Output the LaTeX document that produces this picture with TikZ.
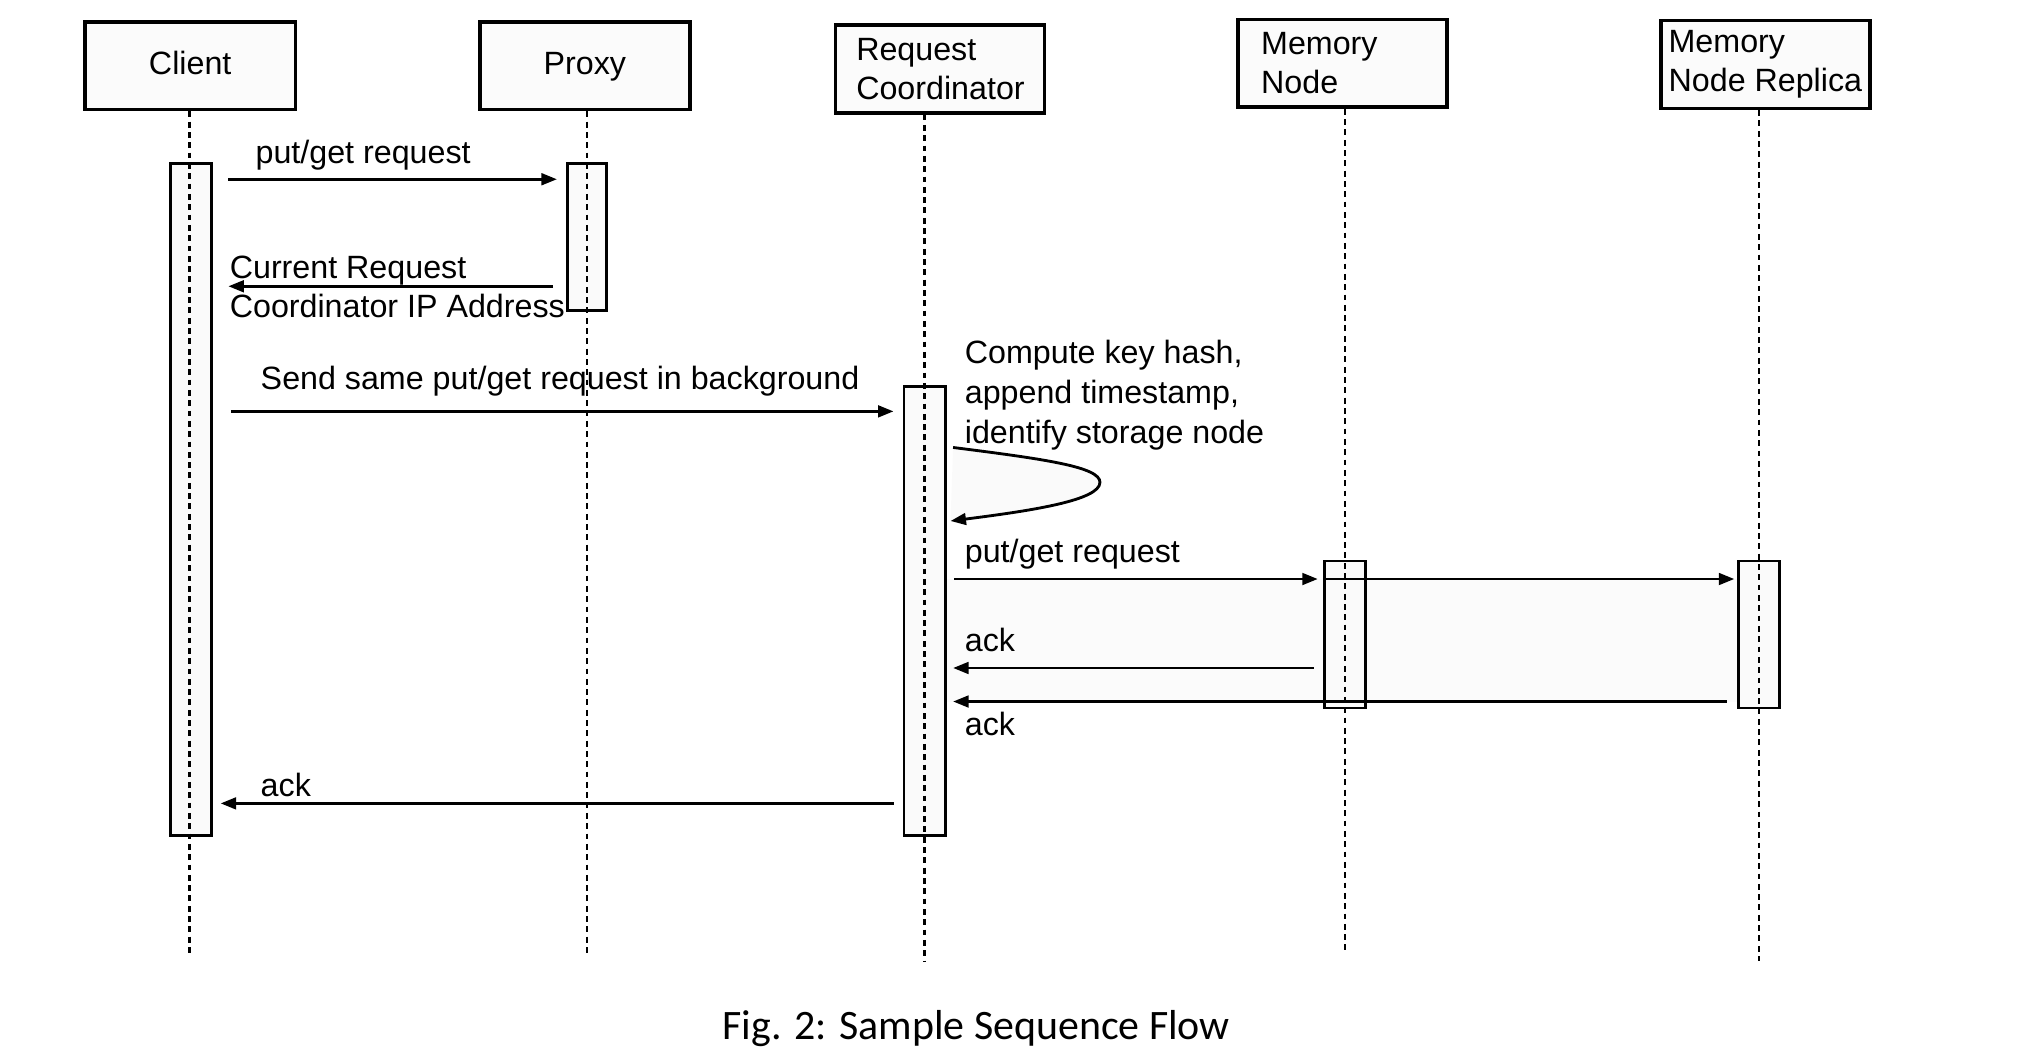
\documentclass[tikz,border=0pt]{standalone}
\usepackage{fontspec}
\setmainfont{Liberation Sans}
\newfontfamily\capfont{Carlito}
\usetikzlibrary{arrows.meta,calc}
\pgfdeclarelayer{background}
\pgfsetlayers{background,main}
\begin{document}
\begin{tikzpicture}[x=1pt,y=-1pt,
  every node/.style={font=\fontsize{25}{30}\selectfont},
  lbox/.style={draw, line width=2.8pt, fill=gray!3, inner sep=0pt, minimum height=68pt},
  abar/.style={draw, line width=2.2pt, fill=gray!4, inner sep=0pt},
  life/.style={line width=1.8pt, dash pattern=on 4.5pt off 3.5pt},
  msg/.style={line width=2.2pt, -{Triangle[length=12pt,width=9pt]}},
  lbl/.style={anchor=base west, inner sep=0pt}
]
\useasboundingbox (0,0) rectangle (1568,817);

% header boxes
\node[lbox, minimum width=163pt, text depth=5pt, text height=18pt] (client) at (147.5,51) {Client};
\node[lbox, minimum width=163pt, text depth=5pt, text height=18pt] (proxy) at (453.5,51) {Proxy};
\node[lbox, minimum width=162pt, text width=130pt, inner xsep=16pt, align=left] (rc) at (729,53.5) {Request\\Coordinator};
\node[lbox, minimum width=162pt, text width=126pt, inner xsep=18pt, align=left] (mn) at (1041,49) {Memory\\Node};
\node[lbox, minimum width=162pt, align=left] (mnr) at (1369,50) {Memory\\Node Replica};

% row coordinates
\coordinate (r1) at (0,139);
\coordinate (r2) at (0,222);
\coordinate (r3) at (0,319);
\coordinate (l1) at (0,347);
\coordinate (l2) at (0,404);
\coordinate (r5) at (0,449);
\coordinate (r6) at (0,518);
\coordinate (r7) at (0,544);
\coordinate (r8) at (0,623);

% activation bars
\node[abar, minimum width=32pt, minimum height=521pt] (cbar) at (148,387.5) {};
\node[abar, minimum width=30pt, minimum height=114pt] (pbar) at (455,184) {};
\node[abar, minimum width=32pt, minimum height=348pt] (rbar) at (717,474) {};
\node[abar, minimum width=32pt, minimum height=114pt] (mbar) at (1043,492) {};
\node[abar, minimum width=32pt, minimum height=114pt] (mrbar) at (1364,492) {};

% shaded band and loop region
\coordinate (ls) at ($(rbar.east |- l1)+(5,0)$);
\coordinate (le) at ($(rbar.east |- l2)+(3,0)$);
\begin{pgfonlayer}{background}
\fill[gray!3] (rbar.east |- r5) rectangle (mrbar.west |- r7);
\fill[gray!4] (ls) .. controls (810,356) and (853,362) .. (853,374) .. controls (853,388) and (800,396) .. (le) -- cycle;
\end{pgfonlayer}

% lifeline ends
\coordinate (clientEnd) at (147,740);
\coordinate (proxyEnd) at (455,740);
\coordinate (rcEnd) at (717,745);
\coordinate (mnEnd) at (1043,740);
\coordinate (mnrEnd) at (1364,745);

\draw[life] (client.south -| clientEnd) -- (clientEnd);
\draw[life] (proxy.south -| proxyEnd) -- (proxyEnd);
\draw[life] (rc.south -| rcEnd) -- (rcEnd);
\draw[life] (mn.south -| mnEnd) -- (mnEnd);
\draw[life] (mnr.south -| mnrEnd) -- (mnrEnd);

% messages
\draw[msg, shorten <=12pt, shorten >=7pt] (cbar.east |- r1) -- (pbar.west |- r1);
\node[lbl] (t1) at (198,127) {put/get request};

\draw[msg, shorten <=10pt, shorten >=12pt] (pbar.west |- r2) -- (cbar.east |- r2);
\node[lbl] (t2a) at (178,216) {Current Request};
\node[lbl] (t2b) at (178,246) {Coordinator IP Address};

\draw[msg, shorten <=14pt, shorten >=7pt] (cbar.east |- r3) -- (rbar.west |- r3);
\node[lbl] (t3) at (202,302) {Send same put/get request in background};

\draw[msg] (ls) .. controls (810,356) and (853,362) .. (853,374) .. controls (853,388) and (800,396) .. (le);
\node[lbl] (t4a) at (748,282) {Compute key hash,};
\node[lbl] (t4b) at (748,313) {append timestamp,};
\node[lbl] (t4c) at (748,344) {identify storage node};

\draw[msg, shorten <=6pt, shorten >=4pt] (rbar.east |- r5) -- (mbar.west |- r5);
\draw[msg, shorten >=2pt] (mbar.west |- r5) -- (mrbar.west |- r5);
\node[lbl] (t5) at (748,436) {put/get request};

\draw[msg, shorten <=7pt, shorten >=5pt] (mbar.west |- r6) -- (rbar.east |- r6);
\node[lbl] (t6) at (748,505) {ack};

\draw[msg, shorten <=8pt, shorten >=5pt] (mrbar.west |- r7) -- (rbar.east |- r7);
\node[lbl] (t7) at (748,570) {ack};

\draw[msg, shorten <=7pt, shorten >=6pt] (rbar.west |- r8) -- (cbar.east |- r8);
\node[lbl] (t8) at (202,618) {ack};

% caption
\node[font=\capfont\fontsize{32.5}{39}\selectfont, anchor=base] (cap) at (757,806) {Fig. 2: Sample Sequence Flow};
\end{tikzpicture}
\end{document}
